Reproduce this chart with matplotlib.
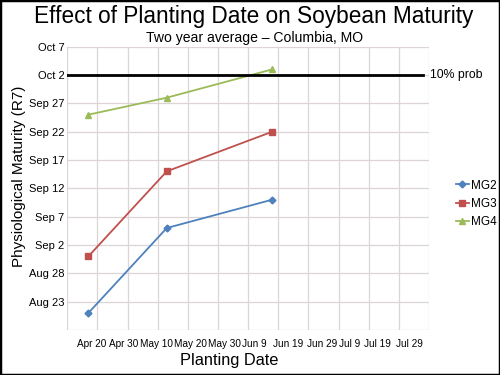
import matplotlib
matplotlib.use('Agg')
import matplotlib.pyplot as plt
import matplotlib.dates as mdates
from datetime import datetime
from matplotlib.patches import Rectangle

plt.rcParams['font.family'] = ['Liberation Sans', 'DejaVu Sans']

# data (dates, two year average)
planting = ['Apr 19', 'May 15', 'Jun 19']
mg2 = ['Aug 21', 'Sep 5', 'Sep 10']
mg3 = ['Aug 31', 'Sep 15', 'Sep 22']
mg4 = ['Sep 25', 'Sep 28', 'Oct 3']
prob10 = 'Oct 2'

x_labels = ['Apr 20', 'Apr 30', 'May 10', 'May 20', 'May 30', 'Jun 9',
            'Jun 19', 'Jun 29', 'Jul 9', 'Jul 19', 'Jul 29']
x_start, x_end = 'Apr 12', 'Aug 10'
y_start, y_end = 'Aug 18', 'Oct 7'


def d(s):
    return mdates.date2num(datetime.strptime(s + ' 2013', '%b %d %Y'))


def lab(num):
    dt = mdates.num2date(num)
    return f'{dt:%b} {dt.day}'


fig = plt.figure(figsize=(5, 3.75), dpi=100)
ax = fig.add_axes([0.1346, 0.12, 0.7234, 0.7555])

colors = {'MG2': '#4f81bd', 'MG3': '#c0504d', 'MG4': '#9bbb59'}
xs = [d(s) for s in planting]
ax.plot(xs, [d(s) for s in mg2], color=colors['MG2'], marker='D', ms=3.5, lw=1.3, label='MG2')
ax.plot(xs, [d(s) for s in mg3], color=colors['MG3'], marker='s', ms=4.5, lw=1.3, label='MG3')
ax.plot(xs, [d(s) for s in mg4], color=colors['MG4'], marker='^', ms=4, lw=1.3, label='MG4')

ax.axhline(d(prob10), xmin=0, xmax=0.984, color='black', lw=2, zorder=5)
ax.text(1.004, d(prob10), '10% prob', transform=ax.get_yaxis_transform(),
        fontsize=8.8, va='center', ha='left')

x0, x1 = d(x_start), d(x_end)
y0, y1 = d(y_start), d(y_end)
ax.set_xlim(x0, x1)
ax.set_ylim(y0, y1)

yt = [y0 + 5 * i for i in range(11)]
ax.set_yticks(yt)
ax.set_yticklabels([''] + [lab(v) for v in yt[1:]], fontsize=8)
ax.set_xticks([x0 + 10 * i for i in range(13)])
ax.set_xticklabels([])
ax.tick_params(length=0, pad=2)
ax.grid(True, color='#ddd5d5', lw=0.9)
for s in ax.spines.values():
    s.set_visible(False)

# category labels, packed like the original
x_label_px = [91.7, 123.5, 156.7, 190, 224.5, 254.7, 288, 321.7, 350, 377, 409]
for t, px in zip(x_labels, x_label_px):
    fig.text(px / 500, 1 - 344 / 375, t, fontsize=7.2, ha='center', va='center')

fig.text(0.508, 1 - 17 / 375, 'Effect of Planting Date on Soybean Maturity',
         fontsize=16.3, ha='center', va='center')
fig.text(0.51, 1 - 38 / 375, 'Two year average \u2013 Columbia, MO',
         fontsize=10.1, ha='center', va='center')
fig.text(229 / 500, 1 - 360 / 375, 'Planting Date', fontsize=11.8, ha='center', va='center')
fig.text(19 / 500, 1 - 176 / 375, 'Physiological Maturity (R7)', fontsize=11,
         rotation=90, ha='center', va='center')

ax.legend(loc='center left', bbox_to_anchor=(450 / 500, 1 - 204 / 375),
          bbox_transform=fig.transFigure, frameon=False, fontsize=8.5,
          handlelength=1.1, handletextpad=0.2, labelspacing=0.55, borderpad=0)

fig.patches.append(Rectangle((0, 0), 1, 1, transform=fig.transFigure, fill=False,
                             edgecolor='black', lw=2.5))

fig.savefig('out.png', dpi=100)
